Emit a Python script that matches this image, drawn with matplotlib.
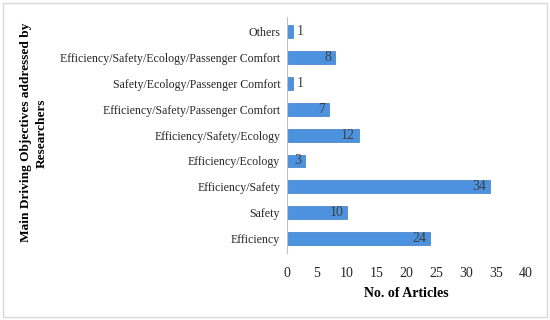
import matplotlib.pyplot as plt
import numpy as np

categories = ['Efficiency', 'Safety', 'Efficiency/Safety', 'Efficiency/Ecology',
              'Efficiency/Safety/Ecology', 'Efficiency/Safety/Passenger Comfort',
              'Safety/Ecology/Passenger Comfort',
              'Efficiency/Safety/Ecology/Passenger Comfort', 'Others']
counts = [24, 10, 34, 3, 12, 7, 1, 8, 1]
xticks = [0, 5, 10, 15, 20, 25, 30, 35, 40]

plt.rcParams['font.family'] = 'Liberation Serif'

fig = plt.figure(figsize=(5.5, 3.2), dpi=100)
fig.patches.append(plt.Rectangle((0.006, 0.01), 0.988, 0.98, transform=fig.transFigure,
                                 fill=False, edgecolor='#d9d9d9', lw=1))
ax = fig.add_axes([0.522, 0.209, 0.434, 0.738])

y = np.arange(len(categories))
ax.barh(y, counts, height=0.5, color='#4d92de', edgecolor='#3f7cc4', lw=0.5)
for yi, c in zip(y, counts):
    if c < 3:
        ax.text(c + 0.6, yi, str(c), va='center', ha='left', fontsize=10, color='#404040')
    else:
        ax.text(c - 0.6, yi, str(c), va='center', ha='right', fontsize=10, color='#404040')

ax.set_yticks(y)
ax.set_yticklabels(categories, fontsize=8.6, color='#262626')
ax.set_xticks(xticks)
ax.set_xticklabels([str(t) for t in xticks], fontsize=10, color='#262626')
ax.set_xlim(0, 40)
ax.set_ylim(-0.55, 8.55)
ax.tick_params(length=0, pad=5)
ax.tick_params(axis='x', pad=10)
for s in ['top', 'right', 'bottom']:
    ax.spines[s].set_visible(False)
ax.spines['left'].set_color('#bfbfbf')

ax.set_xlabel('No. of Articles', fontsize=10, fontweight='bold', labelpad=5)
fig.text(0.062, 0.585, 'Main Driving Objectives addressed by\nResearchers', rotation=90,
         ha='center', va='center', fontsize=9.6, fontweight='bold', linespacing=1.4)

fig.savefig('out.png', dpi=100)
